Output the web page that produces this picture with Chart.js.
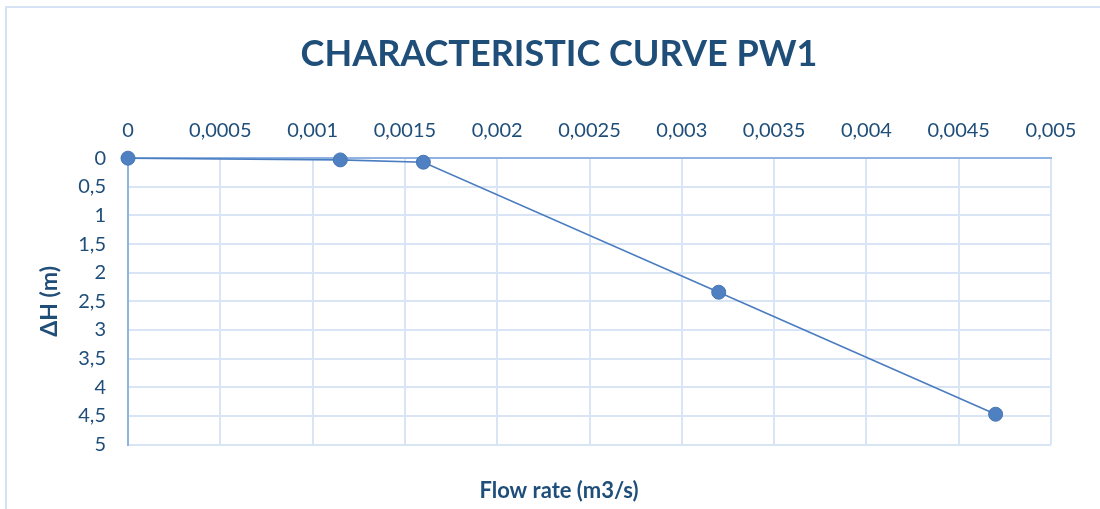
<!DOCTYPE html>
<html>
<head>
<meta charset="utf-8">
<title>Characteristic curve PW1</title>
<script src="https://cdn.jsdelivr.net/npm/chart.js@4/dist/chart.umd.min.js"></script>
<style>
  html, body { margin: 0; padding: 0; background: #ffffff; }
  #wrap { width: 1100px; height: 509px; position: relative; }
</style>
</head>
<body>
<div id="wrap"><canvas id="chart" width="1100" height="509"></canvas></div>
<script>
// Measured pump curve: flow rate (m3/s) against head loss ΔH (m)
const flowRate = [0, 0.00115, 0.0016, 0.0032, 0.0047];
const deltaH   = [0, 0.03, 0.07, 2.34, 4.47];

// Axis ticks
const xTicks = [0, 0.0005, 0.001, 0.0015, 0.002, 0.0025, 0.003, 0.0035, 0.004, 0.0045, 0.005];
const xTickLabels = ['0', '0,0005', '0,001', '0,0015', '0,002', '0,0025', '0,003', '0,0035', '0,004', '0,0045', '0,005'];
const yTicks = [0, 0.5, 1, 1.5, 2, 2.5, 3, 3.5, 4, 4.5, 5];
const yTickLabels = ['0', '0,5', '1', '1,5', '2', '2,5', '3', '3,5', '4', '4,5', '5'];

const TEXT = '#1F4E79';
const GRID = '#D9E5F5';
const AXIS = '#8FB4E3';
const FONT = 'Lato, "Open Sans", sans-serif';

// Light frame around the whole chart
const framePlugin = {
  id: 'frame',
  beforeDraw(chart) {
    const ctx = chart.ctx;
    ctx.save();
    ctx.strokeStyle = '#D6E3F5';
    ctx.lineWidth = 2;
    ctx.strokeRect(6, 7, chart.width + 20, chart.height + 20);
    ctx.restore();
  }
};

new Chart(document.getElementById('chart'), {
  type: 'scatter',
  data: {
    datasets: [{
      label: 'PW1',
      data: flowRate.map((q, i) => ({ x: q, y: deltaH[i] })),
      showLine: true,
      clip: false,
      borderColor: '#4A7DC0',
      borderWidth: 1.6,
      backgroundColor: '#4F81C2',
      pointBackgroundColor: '#4F81C2',
      pointBorderColor: '#4775B3',
      pointBorderWidth: 1,
      pointRadius: 7,
      tension: 0
    }]
  },
  plugins: [framePlugin],
  options: {
    responsive: false,
    animation: false,
    layout: { padding: { left: 18, right: 0, top: 0, bottom: 0 } },
    plugins: {
      legend: { display: false },
      tooltip: { enabled: false },
      title: {
        display: true,
        text: 'CHARACTERISTIC CURVE PW1',
        color: TEXT,
        font: { family: FONT, size: 36, weight: 'bold' },
        padding: { top: 33, bottom: 0 }
      },
      subtitle: {
        display: true,
        position: 'bottom',
        text: 'Flow rate (m3/s)',
        color: TEXT,
        font: { family: FONT, size: 22, weight: 'bold' },
        padding: { top: 33, bottom: 5 }
      }
    },
    scales: {
      x: {
        type: 'linear',
        position: 'top',
        min: 0,
        max: 0.005,
        afterBuildTicks(scale) { scale.ticks = xTicks.map(v => ({ value: v })); },
        afterFit(scale) { scale.height = 82; scale.paddingLeft = 0; scale.paddingRight = 49; },
        ticks: {
          color: TEXT,
          font: { family: FONT, size: 20 },
          padding: 16,
          maxRotation: 0,
          autoSkip: false,
          callback: (v, i) => xTickLabels[i]
        },
        grid: { color: GRID, lineWidth: 2, drawTicks: false },
        border: { color: AXIS, width: 2 }
      },
      y: {
        type: 'linear',
        reverse: true,
        min: 0,
        max: 5,
        afterBuildTicks(scale) { scale.ticks = yTicks.map(v => ({ value: v })); },
        afterFit(scale) { scale.width = 110; scale.paddingTop = 0; scale.paddingBottom = 0; },
        ticks: {
          color: TEXT,
          font: { family: FONT, size: 20 },
          padding: 22,
          autoSkip: false,
          callback: (v, i) => yTickLabels[i]
        },
        title: {
          display: true,
          text: 'ΔH (m)',
          color: TEXT,
          font: { family: FONT, size: 23, weight: 'bold' },
          padding: { top: 18, bottom: 0 }
        },
        grid: { color: GRID, lineWidth: 2, drawTicks: false },
        border: { color: AXIS, width: 2 }
      }
    }
  }
});
</script>
</body>
</html>
